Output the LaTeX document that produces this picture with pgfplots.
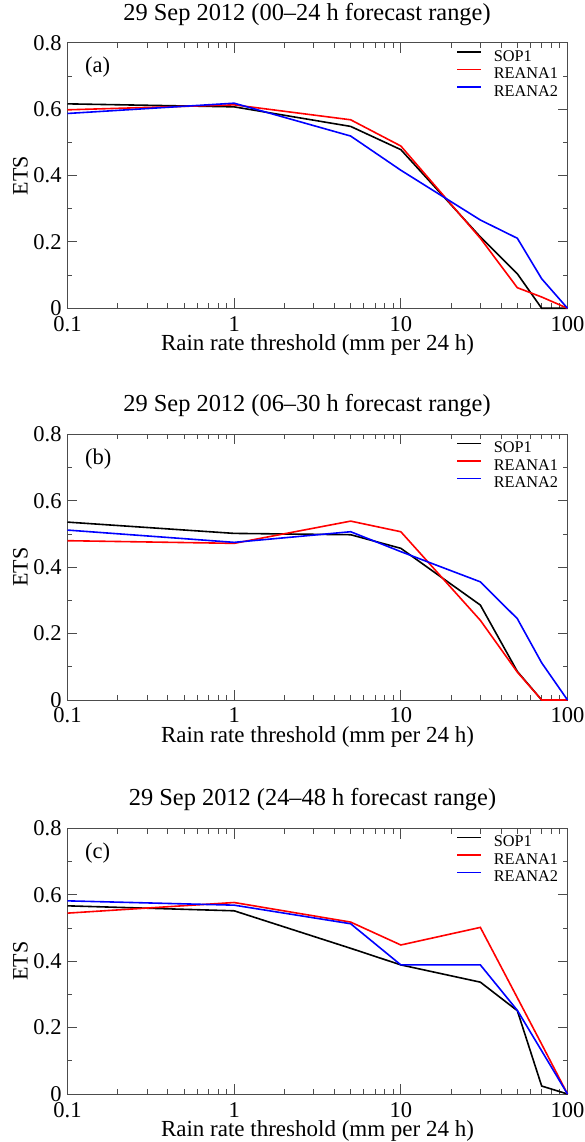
\documentclass[border=0pt]{standalone}
\usepackage{fontspec}
\setmainfont{Liberation Serif}
\usepackage{pgfplots}
\pgfplotsset{compat=1.18}
\definecolor{axgray}{gray}{0.3}
\pgfplotsset{
  every axis/.append style={
  scale only axis, width=500pt, height=265.5pt,
  xmin=0.1, xmax=100, ymin=0, ymax=0.8,
  clip=false,
  xtick={0.1,1,10,100}, xticklabels={0.1,1,10,100},
  minor xtick={0.2,0.3,0.4,0.5,0.6,0.7,0.8,0.9,2,3,4,5,6,7,8,9,20,30,40,50,60,70,80,90},
  ytick={0,0.2,0.4,0.6,0.8}, yticklabels={0,0.2,0.4,0.6,0.8},
  minor ytick={0.1,0.3,0.5,0.7},
  tick align=inside, xtick pos=both, ytick pos=both,
  xticklabel pos=lower, yticklabel pos=left,
  major tick length=10pt, minor tick length=5pt,
  axis line style={axgray, line width=0.9pt},
  tick style={axgray, line width=0.9pt},
  tick label style={font=\fontsize{22.5}{24}\selectfont},
  xticklabel style={anchor=base, inner sep=0pt, yshift=-23pt},
  yticklabel style={anchor=east, inner sep=0pt, xshift=-5.7pt},
  xlabel style={at={(axis description cs:0.5,0)}, anchor=base, inner sep=0pt, yshift=-42.7pt, font=\fontsize{23}{25}\selectfont},
  ylabel style={at={(axis description cs:-0.094,0.5)}, anchor=center, inner sep=0pt, font=\fontsize{22}{24}\selectfont},
  title style={anchor=base, inner sep=0pt, yshift=16.7pt, font=\fontsize{24.4}{26}\selectfont},
  legend style={at={(axis description cs:0.778,0.974)}, anchor=north west, draw=none, fill=none,
    inner sep=0pt, outer sep=0pt, row sep=0pt, column sep=12pt,
    nodes={inner sep=0pt, text height=11.5pt, text depth=6pt},
    font=\fontsize{16.3}{18}\selectfont},
  legend cell align=left,
  },
  every axis plot/.append style={line width=1.6pt},
}
\begin{document}
\begin{tikzpicture}
\path (0pt,0pt) rectangle (581pt,1142pt);
% Panel (a)
\begin{semilogxaxis}[at={(67.5pt,833.7pt)}, anchor=south west,
  legend image code/.code={\draw[#1, line width=1.6pt] (0pt,6.5pt) -- (23.7pt,6.5pt);},
  xlabel={Rain rate threshold (mm per 24 h)}, ylabel={ETS},
  title={29 Sep 2012 (00--24 h forecast range)},
  title style={at={(axis description cs:0.479,1)}}]
\addplot[black] coordinates {(0.1,0.616) (1,0.607) (5,0.548) (10,0.478) (30,0.215) (50,0.104) (70,0) (100,0)};
\addplot[red] coordinates {(0.1,0.598) (1,0.613) (5,0.568) (10,0.489) (30,0.211) (50,0.062) (70,0.034) (100,0)};
\addplot[blue] coordinates {(0.1,0.587) (1,0.618) (5,0.519) (10,0.416) (30,0.266) (50,0.211) (70,0.089) (100,0)};
\legend{SOP1,REANA1,REANA2}
\node[anchor=base west, inner sep=0pt, font=\fontsize{22.5}{24}\selectfont] at (axis description cs:0.035,0.887) {(a)};
\end{semilogxaxis}
% Panel (b)
\begin{semilogxaxis}[at={(67.5pt,442pt)}, anchor=south west,
  legend image code/.code={\draw[#1, line width=1.6pt] (0pt,6.5pt) -- (23.7pt,6.5pt);},
  xlabel={Rain rate threshold (mm per 24 h)}, ylabel={ETS},
  title={29 Sep 2012 (06--30 h forecast range)},
  title style={at={(axis description cs:0.479,1)}}]
\addplot[black] coordinates {(0.1,0.536) (1,0.502) (5,0.498) (10,0.457) (30,0.286) (50,0.086) (70,0) (100,0)};
\addplot[red] coordinates {(0.1,0.480) (1,0.472) (5,0.539) (10,0.507) (30,0.240) (50,0.084) (70,0) (100,0)};
\addplot[blue] coordinates {(0.1,0.512) (1,0.475) (5,0.507) (10,0.447) (30,0.356) (50,0.245) (70,0.112) (100,0)};
\legend{SOP1,REANA1,REANA2}
\node[anchor=base west, inner sep=0pt, font=\fontsize{22.5}{24}\selectfont] at (axis description cs:0.035,0.887) {(b)};
\end{semilogxaxis}
% Panel (c)
\begin{semilogxaxis}[at={(67.5pt,48pt)}, anchor=south west,
  legend image code/.code={\draw[#1, line width=1.6pt] (0pt,6.5pt) -- (23.7pt,6.5pt);},
  xlabel={Rain rate threshold (mm per 24 h)}, ylabel={ETS},
  title={29 Sep 2012 (24--48 h forecast range)},
  title style={at={(axis description cs:0.490,1)}}]
\addplot[black] coordinates {(0.1,0.567) (1,0.552) (5,0.439) (10,0.389) (30,0.337) (50,0.251) (70,0.024) (100,0)};
\addplot[red] coordinates {(0.1,0.545) (1,0.577) (5,0.518) (10,0.449) (30,0.502) (50,0.290) (70,0.150) (100,0)};
\addplot[blue] coordinates {(0.1,0.582) (1,0.569) (5,0.513) (10,0.389) (30,0.389) (50,0.252) (70,0.130) (100,0)};
\legend{SOP1,REANA1,REANA2}
\node[anchor=base west, inner sep=0pt, font=\fontsize{22.5}{24}\selectfont] at (axis description cs:0.035,0.887) {(c)};
\end{semilogxaxis}
\end{tikzpicture}
\end{document}
